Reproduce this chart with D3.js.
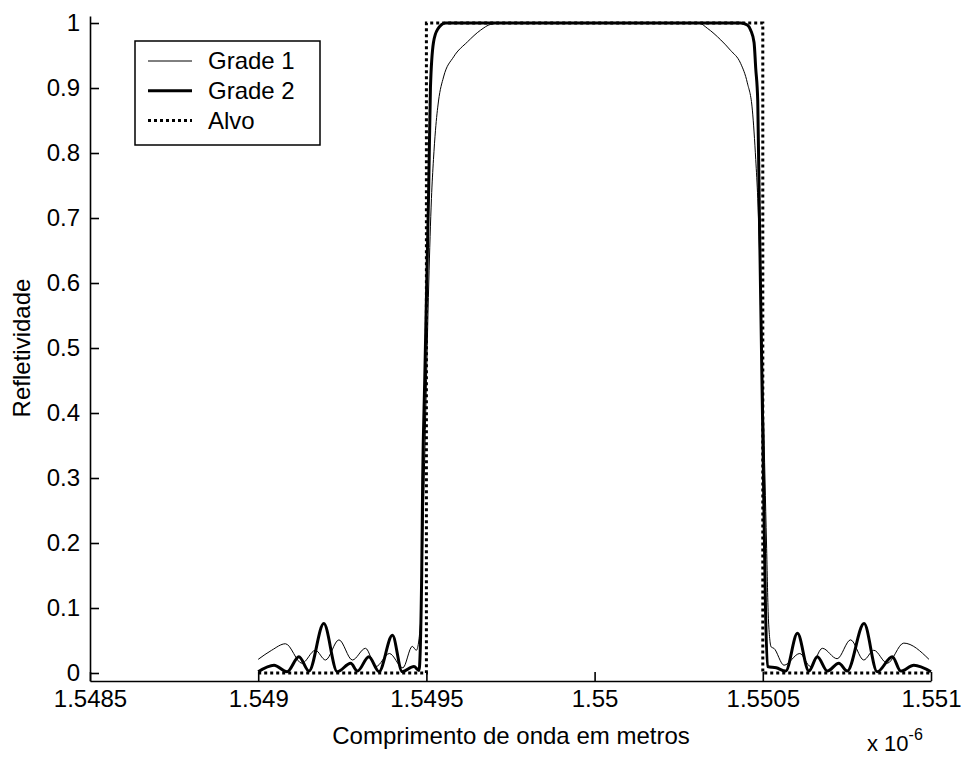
<!DOCTYPE html>
<html>
<head>
<meta charset="utf-8">
<script src="https://cdn.jsdelivr.net/npm/d3@7"></script>
<style>
  body { margin: 0; background: #fff; }
  svg { display: block; font-family: "Liberation Sans", Arial, sans-serif; }
</style>
</head>
<body>
<div id="chart-container"></div>
<script>
// wavelength in units of 1e-6 m
const xTicks = [1.5485, 1.549, 1.5495, 1.55, 1.5505, 1.551];
const xTickLabels = ["1.5485", "1.549", "1.5495", "1.55", "1.5505", "1.551"];
const yTicks = [0, 0.1, 0.2, 0.3, 0.4, 0.5, 0.6, 0.7, 0.8, 0.9, 1];
const yTickLabels = ["0", "0.1", "0.2", "0.3", "0.4", "0.5", "0.6", "0.7", "0.8", "0.9", "1"];

// Grade 1 (thin line)
const grade1X = [1.549, 1.54904, 1.549081, 1.54913, 1.54917, 1.5492, 1.54924, 1.54928, 1.549319, 1.54935,
  1.54939, 1.54943, 1.549458, 1.54947, 1.549483, 1.549489, 1.549498, 1.549507, 1.549515, 1.549521,
  1.549527, 1.549536, 1.549551, 1.549581, 1.549622, 1.549661, 1.549691, 1.549721, 1.55031, 1.550335,
  1.550375, 1.550404, 1.550434, 1.550454, 1.550469, 1.550479, 1.550485, 1.550493, 1.550502, 1.550511,
  1.550517, 1.550525, 1.550533, 1.550563, 1.55061, 1.550642, 1.550677, 1.550721, 1.550761, 1.5508,
  1.55083, 1.55087, 1.550919, 1.550994];
const grade1Y = [0.021, 0.035, 0.045, 0.015, 0.035, 0.02, 0.051, 0.02, 0.038, 0.01,
  0.03, 0.008, 0.041, 0.035, 0.08, 0.2, 0.4, 0.6, 0.73, 0.79,
  0.835, 0.88, 0.917, 0.948, 0.971, 0.989, 0.998, 1.0, 1.0, 0.992,
  0.974, 0.958, 0.938, 0.908, 0.866, 0.79, 0.73, 0.6, 0.4, 0.2,
  0.08, 0.04, 0.038, 0.012, 0.03, 0.01, 0.038, 0.022, 0.051, 0.02,
  0.035, 0.015, 0.046, 0.021];

// Grade 2 (thick line)
const grade2X = [1.549, 1.549047, 1.549086, 1.549121, 1.549151, 1.549195, 1.549235, 1.549275, 1.549295, 1.549329,
  1.549359, 1.549399, 1.549428, 1.549463, 1.549478, 1.549486, 1.549489, 1.549495, 1.549501, 1.549507,
  1.549512, 1.549521, 1.549533, 1.549557, 1.550434, 1.550454, 1.550464, 1.550474, 1.550479, 1.550485,
  1.55049, 1.550496, 1.550502, 1.550508, 1.550514, 1.55054, 1.550568, 1.550603, 1.550637, 1.550662,
  1.550692, 1.550726, 1.550751, 1.550801, 1.55084, 1.550885, 1.55091, 1.550949, 1.551];
const grade2Y = [0.002, 0.012, 0.002, 0.025, 0.003, 0.076, 0.002, 0.015, 0.003, 0.025,
  0.002, 0.058, 0.002, 0.010, 0.004, 0.15, 0.3, 0.45, 0.6, 0.75,
  0.9, 0.97, 0.99, 1.0, 1.0, 0.997, 0.989, 0.97, 0.93, 0.88,
  0.7, 0.5, 0.3, 0.1, 0.01, 0.008, 0.003, 0.061, 0.003, 0.025,
  0.003, 0.015, 0.003, 0.076, 0.002, 0.025, 0.003, 0.012, 0.002];

// Alvo (target, dotted)
const alvoX = [1.549, 1.5495, 1.5495, 1.5505, 1.5505, 1.551];
const alvoY = [0, 0, 1, 1, 0, 0];

const width = 961, height = 758;

const svg = d3.select("#chart-container").append("svg")
    .attr("width", width)
    .attr("height", height);

const xScale = d3.scaleLinear().domain([1.5485, 1.551]).range([90, 931]);
const yScale = d3.scaleLinear().domain([-0.0123, 1.0108]).range([681, 16]);

const xAxis = svg.append("g")
    .attr("transform", "translate(0,681)")
    .call(d3.axisBottom(xScale).tickValues(xTicks)
        .tickSizeInner(-9).tickSizeOuter(0).tickPadding(9)
        .tickFormat((d, i) => xTickLabels[i]));

const yAxis = svg.append("g")
    .attr("transform", "translate(90,0)")
    .call(d3.axisLeft(yScale).tickValues(yTicks)
        .tickSizeInner(-9).tickSizeOuter(0).tickPadding(10)
        .tickFormat((d, i) => yTickLabels[i]));

svg.selectAll(".domain, .tick line")
    .attr("stroke", "#000")
    .attr("stroke-width", 1.6);
svg.selectAll(".tick text")
    .attr("fill", "#000")
    .style("font-size", "24px")
    .style("font-family", "'Liberation Sans', Arial, sans-serif");

const line = d3.line()
    .x(d => xScale(d[0]))
    .y(d => yScale(d[1]))
    .curve(d3.curveMonotoneX);

const straight = d3.line()
    .x(d => xScale(d[0]))
    .y(d => yScale(d[1]));

svg.append("path")
    .datum(alvoX.map((x, i) => [x, alvoY[i]]))
    .attr("fill", "none")
    .attr("stroke", "#000")
    .attr("stroke-width", 3)
    .attr("stroke-dasharray", "3,3")
    .attr("d", straight);

svg.append("path")
    .datum(grade1X.map((x, i) => [x, grade1Y[i]]))
    .attr("fill", "none")
    .attr("stroke", "#000")
    .attr("stroke-width", 1)
    .attr("d", line);

svg.append("path")
    .datum(grade2X.map((x, i) => [x, grade2Y[i]]))
    .attr("fill", "none")
    .attr("stroke", "#000")
    .attr("stroke-width", 3)
    .attr("stroke-linejoin", "round")
    .attr("d", line);

// legend
const legend = svg.append("g");
legend.append("rect")
    .attr("x", 135).attr("y", 41)
    .attr("width", 185).attr("height", 104)
    .attr("fill", "#fff")
    .attr("stroke", "#000")
    .attr("stroke-width", 1.5);

const legendItems = [
  { name: "Grade 1", width: 1, dash: null },
  { name: "Grade 2", width: 3, dash: null },
  { name: "Alvo", width: 3, dash: "3,3" }
];
legendItems.forEach((item, i) => {
  const y = 61 + i * 29.7;
  legend.append("line")
      .attr("x1", 148).attr("x2", 192)
      .attr("y1", y).attr("y2", y)
      .attr("stroke", "#000")
      .attr("stroke-width", item.width)
      .attr("stroke-dasharray", item.dash);
  legend.append("text")
      .attr("x", 208).attr("y", y)
      .attr("dy", "0.35em")
      .style("font-size", "24px")
      .text(item.name);
});

// axis labels
svg.append("text")
    .attr("x", 511).attr("y", 744)
    .attr("text-anchor", "middle")
    .style("font-size", "24px")
    .text("Comprimento de onda em metros");

svg.append("text")
    .attr("transform", "translate(30,348) rotate(-90)")
    .attr("text-anchor", "middle")
    .style("font-size", "24px")
    .text("Refletividade");

const expo = svg.append("text")
    .attr("x", 867).attr("y", 751)
    .style("font-size", "22px");
expo.append("tspan").text("x 10");
expo.append("tspan").attr("dy", -11).style("font-size", "16px").text("-6");
</script>
</body>
</html>
